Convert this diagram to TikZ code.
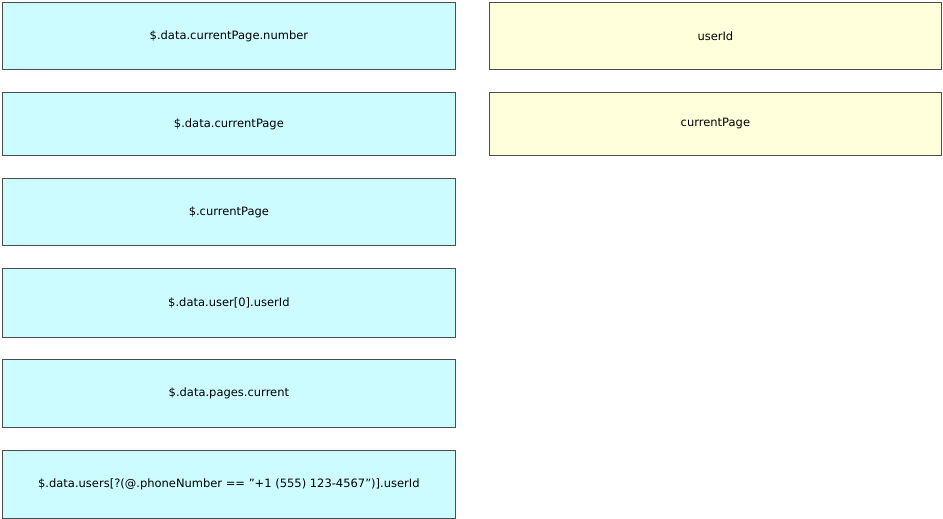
\documentclass[tikz,border=0pt]{standalone}
\usepackage{fontspec}
\setmainfont{DejaVu Sans}
\definecolor{lc}{HTML}{CCFCFF}
\definecolor{ly}{HTML}{FFFFDC}
\begin{document}
\begin{tikzpicture}[x=1pt,y=-1pt,
  bx/.style={draw=black!70,line width=0.8pt,minimum height=#1,inner sep=0pt,font=\fontsize{11.5}{13}\selectfont,anchor=north west},
  lb/.style={bx=#1,fill=lc,minimum width=453},
  yb/.style={bx=#1,fill=ly,minimum width=452}]
\useasboundingbox (0,0) rectangle (943,519);
\node[lb=67] (a) at (2,2) {\$.data.currentPage.number};
\node[lb=63] (b) at (2,92) {\$.data.currentPage};
\node[lb=67] (c) at (2,178) {\$.currentPage};
\node[lb=69] (d) at (2,268) {\$.data.user[0].userId};
\node[lb=68] (e) at (2,359) {\$.data.pages.current};
\node[lb=68] (f) at (2,450) {\$.data.users[?(@.phoneNumber == "+1 (555) 123-4567")].userId};
\node[yb=67] (u) at (489,2) {userId};
\node[yb=63] (p) at (489,92) {currentPage};
\end{tikzpicture}
\end{document}
